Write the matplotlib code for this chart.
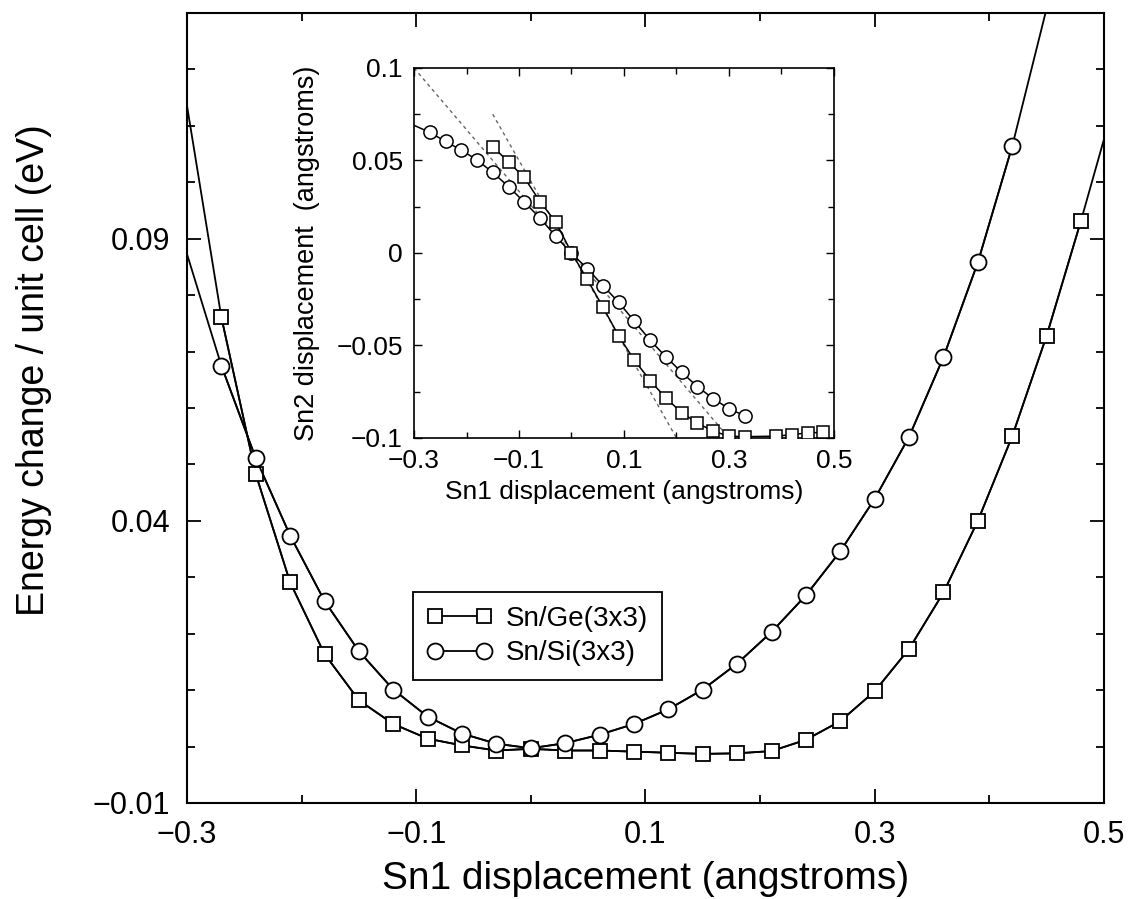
import numpy as np
import matplotlib
matplotlib.use('Agg')
import matplotlib.pyplot as plt
from matplotlib.ticker import FixedLocator, MultipleLocator

plt.rcParams['font.family'] = ['Liberation Sans', 'DejaVu Sans']

# main panel: energy vs Sn1 displacement
# first point (-0.30) and the points past the frame only carry the line to the edge
ge_x = [-0.30, -0.27, -0.24, -0.21, -0.18, -0.15, -0.12, -0.09, -0.06, -0.03, 0.00,
        0.03, 0.06, 0.09, 0.12, 0.15, 0.18, 0.21, 0.24, 0.27, 0.30, 0.33, 0.36,
        0.39, 0.42, 0.45, 0.48, 0.51]
ge_e = [0.1136, 0.0761, 0.0483, 0.0291, 0.0164, 0.0082, 0.0040, 0.0014, 0.0002, -0.0007, -0.0004,
        -0.0007, -0.0007, -0.0009, -0.0011, -0.0013, -0.0012, -0.0008, 0.0012, 0.0045, 0.0098, 0.0173, 0.0273,
        0.0400, 0.0550, 0.0728, 0.0932, 0.1148]

si_x = [-0.30, -0.27, -0.24, -0.21, -0.18, -0.15, -0.12, -0.09, -0.06, -0.03, 0.00,
        0.03, 0.06, 0.09, 0.12, 0.15, 0.18, 0.21, 0.24, 0.27, 0.30, 0.33, 0.36,
        0.39, 0.42, 0.45]
si_e = [0.0873, 0.0675, 0.0511, 0.0374, 0.0258, 0.0169, 0.0101, 0.0053, 0.0023, 0.0005, -0.0003,
        0.0006, 0.0021, 0.0040, 0.0066, 0.0101, 0.0147, 0.0203, 0.0268, 0.0346, 0.0439, 0.0549, 0.0690,
        0.0858, 0.1064, 0.1308]

# inset: Sn2 vs Sn1 displacement
in_si_x = [-0.30, -0.27, -0.24, -0.21, -0.18, -0.15, -0.12, -0.09, -0.06, -0.03, 0.00,
           0.03, 0.06, 0.09, 0.12, 0.15, 0.18, 0.21, 0.24, 0.27, 0.30, 0.33]
in_si_y = [0.069, 0.0652, 0.0603, 0.0556, 0.0503, 0.0435, 0.0359, 0.0275, 0.0189, 0.0090, -0.0002,
           -0.0084, -0.0177, -0.0267, -0.0370, -0.0472, -0.0562, -0.0645, -0.0723, -0.0787, -0.0842, -0.0880]

in_ge_x = [-0.15, -0.12, -0.09, -0.06, -0.03, 0.00, 0.03, 0.06, 0.09, 0.12, 0.15,
           0.18, 0.21, 0.24, 0.27, 0.30, 0.33, 0.39, 0.42, 0.45, 0.48]
in_ge_y = [0.0575, 0.0492, 0.0408, 0.0278, 0.0167, 0.0002, -0.0143, -0.0293, -0.0449, -0.0580, -0.0690,
           -0.0785, -0.0863, -0.0920, -0.0963, -0.0990, -0.0993, -0.0990, -0.0982, -0.0972, -0.0970]

# dashed guide lines (Sn2 = -Sn1/3 and Sn2 = -Sn1/2)
guide1_x = [-0.30, 0.30]
guide1_y = [0.10, -0.10]
guide2_x = [-0.15, 0.20]
guide2_y = [0.075, -0.10]

main_xticks = [-0.3, -0.1, 0.1, 0.3, 0.5]
main_xlabels = ['\u22120.3', '\u22120.1', '0.1', '0.3', '0.5']
main_yticks = [-0.01, 0.04, 0.09]
main_ylabels = ['\u22120.01', '0.04', '0.09']
in_yticks = [-0.1, -0.05, 0.0, 0.05, 0.1]
in_ylabels = ['\u22120.1', '\u22120.05', '0', '0.05', '0.1']

fig = plt.figure(figsize=(11.29, 8.99), dpi=100)

ax = fig.add_axes([0.1656, 0.1068, 0.8122, 0.8788])

# lines running to the frame, then the visible points with markers
ax.plot(ge_x, ge_e, color='black', lw=1.3, zorder=2)
ax.plot(si_x, si_e, color='black', lw=1.3, zorder=2)
ax.plot(ge_x[1:-1], ge_e[1:-1], color='black', lw=1.3, marker='s', ms=10.5,
        mfc='white', mec='black', mew=1.3, label='Sn/Ge(3x3)', zorder=3)
ax.plot(si_x[1:-1], si_e[1:-1], color='black', lw=1.3, marker='o', ms=11.5,
        mfc='white', mec='black', mew=1.3, label='Sn/Si(3x3)', zorder=3)

ax.set_xlim(-0.3, 0.5)
ax.set_ylim(-0.01, 0.13)
ax.xaxis.set_major_locator(FixedLocator(main_xticks))
ax.set_xticklabels(main_xlabels)
ax.xaxis.set_minor_locator(MultipleLocator(0.1))
ax.yaxis.set_major_locator(FixedLocator(main_yticks))
ax.set_yticklabels(main_ylabels)
ax.yaxis.set_minor_locator(MultipleLocator(0.01))
ax.tick_params(which='both', direction='in', top=True, right=True, width=1.3)
ax.tick_params(which='major', length=10, labelsize=22, pad=12)
ax.tick_params(which='minor', length=6)
for s in ax.spines.values():
    s.set_linewidth(1.5)
ax.set_xlabel('Sn1 displacement (angstroms)', fontsize=28, labelpad=8)
ax.set_ylabel('Energy change / unit cell (eV)', fontsize=27)
ax.yaxis.set_label_coords(-0.147, 0.548)

leg = ax.legend(loc='upper left', bbox_to_anchor=(413 / 1129, 1 - 592 / 899),
                bbox_transform=fig.transFigure, numpoints=2, fontsize=20,
                handlelength=2.35, handletextpad=0.5, labelspacing=0.3,
                borderpad=0.5, borderaxespad=0, fancybox=False, framealpha=1)
leg.get_frame().set_edgecolor('black')
leg.get_frame().set_linewidth(1.3)

# inset
ins = fig.add_axes([0.3667, 0.5128, 0.372, 0.4116])
ins.plot(guide1_x, guide1_y, color='#666666', lw=1.0, ls=(0, (2.5, 2.5)), zorder=1)
ins.plot(guide2_x, guide2_y, color='#666666', lw=1.0, ls=(0, (2.5, 2.5)), zorder=1)
ins.plot(in_si_x, in_si_y, color='black', lw=1.1, zorder=2)
ins.plot(in_si_x[1:], in_si_y[1:], color='black', lw=1.1, marker='o', ms=9.5,
         mfc='white', mec='black', mew=1.1, ls='none', zorder=3)
ins.plot(in_ge_x, in_ge_y, color='black', lw=1.1, marker='s', ms=8.2,
         mfc='white', mec='black', mew=1.1, zorder=3)

ins.set_xlim(-0.3, 0.5)
ins.set_ylim(-0.1, 0.1)
ins.xaxis.set_major_locator(FixedLocator(main_xticks))
ins.set_xticklabels(main_xlabels)
ins.xaxis.set_minor_locator(MultipleLocator(0.1))
ins.yaxis.set_major_locator(FixedLocator(in_yticks))
ins.set_yticklabels(in_ylabels)
ins.yaxis.set_minor_locator(MultipleLocator(0.025))
ins.tick_params(which='both', direction='in', top=True, right=True, width=1.0)
ins.tick_params(which='major', length=6, labelsize=19, pad=8)
ins.tick_params(which='minor', length=4)
for s in ins.spines.values():
    s.set_linewidth(1.2)
ins.set_xlabel('Sn1 displacement (angstroms)', fontsize=19, labelpad=5)
ins.set_ylabel('Sn2 displacement  (angstroms)', fontsize=19.5, labelpad=12)

plt.savefig('out.png', dpi=100)
